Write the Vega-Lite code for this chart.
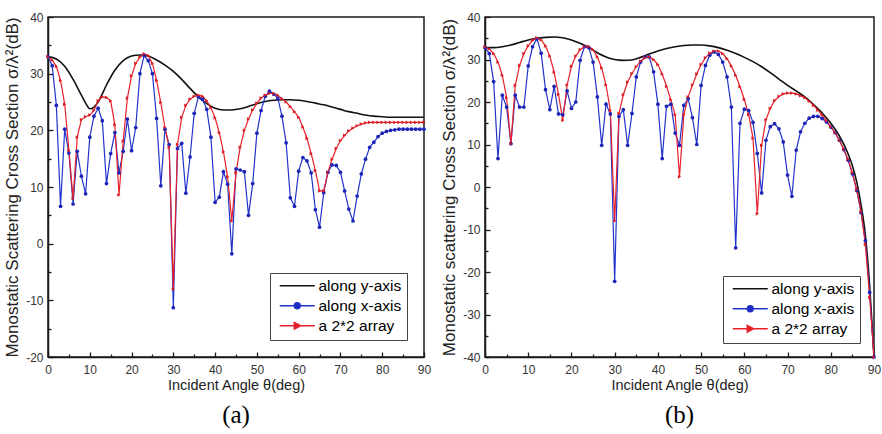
{
"$schema": "https://vega.github.io/schema/vega-lite/v6.json",
"padding": {"left": 2, "top": 10, "right": 2, "bottom": 0},
"spacing": 7,
"datasets": {
"a": [
{"theta":0,"series":"along y-axis","rcs":33.0},{"theta":2,"series":"along y-axis","rcs":32.6},{"theta":4,"series":"along y-axis","rcs":31.3},{"theta":6,"series":"along y-axis","rcs":29.0},{"theta":8,"series":"along y-axis","rcs":26.2},{"theta":9,"series":"along y-axis","rcs":24.8},{"theta":10,"series":"along y-axis","rcs":23.8},{"theta":11,"series":"along y-axis","rcs":24.1},{"theta":12,"series":"along y-axis","rcs":25.0},{"theta":14,"series":"along y-axis","rcs":28.0},{"theta":16,"series":"along y-axis","rcs":30.6},{"theta":18,"series":"along y-axis","rcs":32.3},{"theta":20,"series":"along y-axis","rcs":33.1},{"theta":22,"series":"along y-axis","rcs":33.3},{"theta":24,"series":"along y-axis","rcs":33.1},{"theta":26,"series":"along y-axis","rcs":32.4},{"theta":28,"series":"along y-axis","rcs":31.5},{"theta":30,"series":"along y-axis","rcs":30.4},{"theta":32,"series":"along y-axis","rcs":29.0},{"theta":34,"series":"along y-axis","rcs":27.4},{"theta":36,"series":"along y-axis","rcs":25.9},{"theta":38,"series":"along y-axis","rcs":24.7},{"theta":40,"series":"along y-axis","rcs":23.9},{"theta":42,"series":"along y-axis","rcs":23.6},{"theta":44,"series":"along y-axis","rcs":23.6},{"theta":46,"series":"along y-axis","rcs":23.8},{"theta":48,"series":"along y-axis","rcs":24.2},{"theta":50,"series":"along y-axis","rcs":24.7},{"theta":52,"series":"along y-axis","rcs":25.1},{"theta":54,"series":"along y-axis","rcs":25.3},{"theta":56,"series":"along y-axis","rcs":25.4},{"theta":58,"series":"along y-axis","rcs":25.4},{"theta":60,"series":"along y-axis","rcs":25.3},{"theta":62,"series":"along y-axis","rcs":25.1},{"theta":64,"series":"along y-axis","rcs":24.8},{"theta":66,"series":"along y-axis","rcs":24.5},{"theta":68,"series":"along y-axis","rcs":24.1},{"theta":70,"series":"along y-axis","rcs":23.7},{"theta":72,"series":"along y-axis","rcs":23.3},{"theta":74,"series":"along y-axis","rcs":23.0},{"theta":76,"series":"along y-axis","rcs":22.7},{"theta":78,"series":"along y-axis","rcs":22.5},{"theta":80,"series":"along y-axis","rcs":22.4},{"theta":82,"series":"along y-axis","rcs":22.3},{"theta":84,"series":"along y-axis","rcs":22.3},{"theta":86,"series":"along y-axis","rcs":22.3},{"theta":88,"series":"along y-axis","rcs":22.3},{"theta":90,"series":"along y-axis","rcs":22.3},
{"theta":0,"series":"along x-axis","rcs":33.0},{"theta":1,"series":"along x-axis","rcs":31.4},{"theta":2,"series":"along x-axis","rcs":24.4},{"theta":3,"series":"along x-axis","rcs":6.6},{"theta":4,"series":"along x-axis","rcs":20.2},{"theta":5,"series":"along x-axis","rcs":16.0},{"theta":6,"series":"along x-axis","rcs":7.0},{"theta":7,"series":"along x-axis","rcs":16.3},{"theta":8,"series":"along x-axis","rcs":11.9},{"theta":9,"series":"along x-axis","rcs":8.8},
{"theta":10,"series":"along x-axis","rcs":18.8},{"theta":11,"series":"along x-axis","rcs":22.5},{"theta":12,"series":"along x-axis","rcs":23.9},{"theta":13,"series":"along x-axis","rcs":21.7},{"theta":14,"series":"along x-axis","rcs":10.6},{"theta":15,"series":"along x-axis","rcs":15.9},{"theta":16,"series":"along x-axis","rcs":19.6},{"theta":17,"series":"along x-axis","rcs":12.5},{"theta":18,"series":"along x-axis","rcs":16.3},{"theta":19,"series":"along x-axis","rcs":22.0},
{"theta":20,"series":"along x-axis","rcs":16.4},{"theta":21,"series":"along x-axis","rcs":20.5},{"theta":22,"series":"along x-axis","rcs":30.0},{"theta":23,"series":"along x-axis","rcs":33.2},{"theta":24,"series":"along x-axis","rcs":32.3},{"theta":25,"series":"along x-axis","rcs":30.0},{"theta":26,"series":"along x-axis","rcs":22.1},{"theta":27,"series":"along x-axis","rcs":10.2},{"theta":28,"series":"along x-axis","rcs":20.2},{"theta":29,"series":"along x-axis","rcs":17.5},
{"theta":30,"series":"along x-axis","rcs":-11.3},{"theta":31,"series":"along x-axis","rcs":16.8},{"theta":32,"series":"along x-axis","rcs":17.7},{"theta":33,"series":"along x-axis","rcs":8.9},{"theta":34,"series":"along x-axis","rcs":15.3},{"theta":35,"series":"along x-axis","rcs":23.0},{"theta":36,"series":"along x-axis","rcs":25.9},{"theta":37,"series":"along x-axis","rcs":25.5},{"theta":38,"series":"along x-axis","rcs":23.7},{"theta":39,"series":"along x-axis","rcs":18.8},
{"theta":40,"series":"along x-axis","rcs":7.3},{"theta":41,"series":"along x-axis","rcs":8.2},{"theta":42,"series":"along x-axis","rcs":12.7},{"theta":43,"series":"along x-axis","rcs":10.5},{"theta":44,"series":"along x-axis","rcs":-1.8},{"theta":45,"series":"along x-axis","rcs":13.2},{"theta":46,"series":"along x-axis","rcs":13.0},{"theta":47,"series":"along x-axis","rcs":12.7},{"theta":48,"series":"along x-axis","rcs":5.0},{"theta":49,"series":"along x-axis","rcs":10.6},
{"theta":50,"series":"along x-axis","rcs":19.5},{"theta":51,"series":"along x-axis","rcs":23.5},{"theta":52,"series":"along x-axis","rcs":26.0},{"theta":53,"series":"along x-axis","rcs":26.9},{"theta":54,"series":"along x-axis","rcs":26.4},{"theta":55,"series":"along x-axis","rcs":25.7},{"theta":56,"series":"along x-axis","rcs":22.5},{"theta":57,"series":"along x-axis","rcs":17.8},{"theta":58,"series":"along x-axis","rcs":8.1},{"theta":59,"series":"along x-axis","rcs":6.6},
{"theta":60,"series":"along x-axis","rcs":12.8},{"theta":61,"series":"along x-axis","rcs":15.2},{"theta":62,"series":"along x-axis","rcs":14.6},{"theta":63,"series":"along x-axis","rcs":12.5},{"theta":64,"series":"along x-axis","rcs":6.0},{"theta":65,"series":"along x-axis","rcs":2.9},{"theta":66,"series":"along x-axis","rcs":9.0},{"theta":67,"series":"along x-axis","rcs":12.6},{"theta":68,"series":"along x-axis","rcs":13.9},{"theta":69,"series":"along x-axis","rcs":13.8},
{"theta":70,"series":"along x-axis","rcs":12.6},{"theta":71,"series":"along x-axis","rcs":9.3},{"theta":72,"series":"along x-axis","rcs":6.1},{"theta":73,"series":"along x-axis","rcs":4.0},{"theta":74,"series":"along x-axis","rcs":8.4},{"theta":75,"series":"along x-axis","rcs":12.3},{"theta":76,"series":"along x-axis","rcs":14.9},{"theta":77,"series":"along x-axis","rcs":17.0},{"theta":78,"series":"along x-axis","rcs":17.9},{"theta":79,"series":"along x-axis","rcs":18.9},
{"theta":80,"series":"along x-axis","rcs":19.5},{"theta":81,"series":"along x-axis","rcs":19.8},{"theta":82,"series":"along x-axis","rcs":20.0},{"theta":83,"series":"along x-axis","rcs":20.1},{"theta":84,"series":"along x-axis","rcs":20.2},{"theta":85,"series":"along x-axis","rcs":20.2},{"theta":86,"series":"along x-axis","rcs":20.2},{"theta":87,"series":"along x-axis","rcs":20.2},{"theta":88,"series":"along x-axis","rcs":20.2},{"theta":89,"series":"along x-axis","rcs":20.2},{"theta":90,"series":"along x-axis","rcs":20.2},
{"theta":0,"series":"a 2*2 array","rcs":33.0},{"theta":1,"series":"a 2*2 array","rcs":32.4},{"theta":2,"series":"a 2*2 array","rcs":31.3},{"theta":3,"series":"a 2*2 array","rcs":28.8},{"theta":4,"series":"a 2*2 array","rcs":24.6},{"theta":5,"series":"a 2*2 array","rcs":16.5},{"theta":6,"series":"a 2*2 array","rcs":8.0},{"theta":7,"series":"a 2*2 array","rcs":18.8},{"theta":8,"series":"a 2*2 array","rcs":21.9},{"theta":9,"series":"a 2*2 array","rcs":22.4},
{"theta":10,"series":"a 2*2 array","rcs":22.7},{"theta":11,"series":"a 2*2 array","rcs":23.5},{"theta":12,"series":"a 2*2 array","rcs":25.2},{"theta":13,"series":"a 2*2 array","rcs":25.9},{"theta":14,"series":"a 2*2 array","rcs":25.8},{"theta":15,"series":"a 2*2 array","rcs":25.2},{"theta":16,"series":"a 2*2 array","rcs":21.0},{"theta":17,"series":"a 2*2 array","rcs":8.6},{"theta":18,"series":"a 2*2 array","rcs":18.1},{"theta":19,"series":"a 2*2 array","rcs":25.7},
{"theta":20,"series":"a 2*2 array","rcs":29.6},{"theta":21,"series":"a 2*2 array","rcs":31.8},{"theta":22,"series":"a 2*2 array","rcs":32.9},{"theta":23,"series":"a 2*2 array","rcs":33.5},{"theta":24,"series":"a 2*2 array","rcs":33.2},{"theta":25,"series":"a 2*2 array","rcs":31.8},{"theta":26,"series":"a 2*2 array","rcs":28.8},{"theta":27,"series":"a 2*2 array","rcs":24.9},{"theta":28,"series":"a 2*2 array","rcs":20.5},{"theta":29,"series":"a 2*2 array","rcs":17.0},
{"theta":30,"series":"a 2*2 array","rcs":-8.0},{"theta":31,"series":"a 2*2 array","rcs":17.5},{"theta":32,"series":"a 2*2 array","rcs":22.3},{"theta":33,"series":"a 2*2 array","rcs":24.4},{"theta":34,"series":"a 2*2 array","rcs":25.5},{"theta":35,"series":"a 2*2 array","rcs":26.0},{"theta":36,"series":"a 2*2 array","rcs":26.2},{"theta":37,"series":"a 2*2 array","rcs":26.0},{"theta":38,"series":"a 2*2 array","rcs":25.2},{"theta":39,"series":"a 2*2 array","rcs":24.0},
{"theta":40,"series":"a 2*2 array","rcs":22.2},{"theta":41,"series":"a 2*2 array","rcs":19.6},{"theta":42,"series":"a 2*2 array","rcs":16.2},{"theta":43,"series":"a 2*2 array","rcs":11.8},{"theta":44,"series":"a 2*2 array","rcs":4.0},{"theta":45,"series":"a 2*2 array","rcs":12.5},{"theta":46,"series":"a 2*2 array","rcs":17.0},{"theta":47,"series":"a 2*2 array","rcs":20.0},{"theta":48,"series":"a 2*2 array","rcs":22.0},{"theta":49,"series":"a 2*2 array","rcs":23.6},
{"theta":50,"series":"a 2*2 array","rcs":24.8},{"theta":51,"series":"a 2*2 array","rcs":25.7},{"theta":52,"series":"a 2*2 array","rcs":26.2},{"theta":53,"series":"a 2*2 array","rcs":26.5},{"theta":54,"series":"a 2*2 array","rcs":26.5},{"theta":55,"series":"a 2*2 array","rcs":26.2},{"theta":56,"series":"a 2*2 array","rcs":25.6},{"theta":57,"series":"a 2*2 array","rcs":25.0},{"theta":58,"series":"a 2*2 array","rcs":24.2},{"theta":59,"series":"a 2*2 array","rcs":23.3},
{"theta":60,"series":"a 2*2 array","rcs":22.3},{"theta":61,"series":"a 2*2 array","rcs":20.6},{"theta":62,"series":"a 2*2 array","rcs":18.6},{"theta":63,"series":"a 2*2 array","rcs":15.9},{"theta":64,"series":"a 2*2 array","rcs":12.9},{"theta":65,"series":"a 2*2 array","rcs":9.3},{"theta":66,"series":"a 2*2 array","rcs":9.3},{"theta":67,"series":"a 2*2 array","rcs":12.6},{"theta":68,"series":"a 2*2 array","rcs":14.9},{"theta":69,"series":"a 2*2 array","rcs":16.8},
{"theta":70,"series":"a 2*2 array","rcs":18.2},{"theta":71,"series":"a 2*2 array","rcs":19.1},{"theta":72,"series":"a 2*2 array","rcs":19.9},{"theta":73,"series":"a 2*2 array","rcs":20.4},{"theta":74,"series":"a 2*2 array","rcs":20.8},{"theta":75,"series":"a 2*2 array","rcs":21.1},{"theta":76,"series":"a 2*2 array","rcs":21.3},{"theta":77,"series":"a 2*2 array","rcs":21.4},{"theta":78,"series":"a 2*2 array","rcs":21.4},{"theta":79,"series":"a 2*2 array","rcs":21.4},
{"theta":80,"series":"a 2*2 array","rcs":21.4},{"theta":81,"series":"a 2*2 array","rcs":21.4},{"theta":82,"series":"a 2*2 array","rcs":21.4},{"theta":83,"series":"a 2*2 array","rcs":21.4},{"theta":84,"series":"a 2*2 array","rcs":21.4},{"theta":85,"series":"a 2*2 array","rcs":21.4},{"theta":86,"series":"a 2*2 array","rcs":21.4},{"theta":87,"series":"a 2*2 array","rcs":21.4},{"theta":88,"series":"a 2*2 array","rcs":21.4},{"theta":89,"series":"a 2*2 array","rcs":21.4},{"theta":90,"series":"a 2*2 array","rcs":21.4}
],
"b": [
{"theta":0,"series":"along y-axis","rcs":32.8},{"theta":2,"series":"along y-axis","rcs":32.8},{"theta":4,"series":"along y-axis","rcs":33.0},{"theta":6,"series":"along y-axis","rcs":33.4},{"theta":8,"series":"along y-axis","rcs":34.0},{"theta":10,"series":"along y-axis","rcs":34.6},{"theta":12,"series":"along y-axis","rcs":35.0},{"theta":14,"series":"along y-axis","rcs":35.2},{"theta":16,"series":"along y-axis","rcs":35.3},{"theta":18,"series":"along y-axis","rcs":35.1},{"theta":20,"series":"along y-axis","rcs":34.6},{"theta":22,"series":"along y-axis","rcs":33.8},{"theta":24,"series":"along y-axis","rcs":32.8},{"theta":26,"series":"along y-axis","rcs":31.6},{"theta":28,"series":"along y-axis","rcs":30.6},{"theta":30,"series":"along y-axis","rcs":30.0},{"theta":32,"series":"along y-axis","rcs":29.8},{"theta":34,"series":"along y-axis","rcs":29.9},{"theta":36,"series":"along y-axis","rcs":30.5},{"theta":38,"series":"along y-axis","rcs":31.3},{"theta":40,"series":"along y-axis","rcs":32.0},{"theta":42,"series":"along y-axis","rcs":32.6},{"theta":44,"series":"along y-axis","rcs":33.0},{"theta":46,"series":"along y-axis","rcs":33.3},{"theta":48,"series":"along y-axis","rcs":33.4},{"theta":50,"series":"along y-axis","rcs":33.4},{"theta":52,"series":"along y-axis","rcs":33.2},{"theta":54,"series":"along y-axis","rcs":32.8},{"theta":56,"series":"along y-axis","rcs":32.2},{"theta":58,"series":"along y-axis","rcs":31.4},{"theta":60,"series":"along y-axis","rcs":30.5},{"theta":62,"series":"along y-axis","rcs":29.5},{"theta":64,"series":"along y-axis","rcs":28.3},{"theta":66,"series":"along y-axis","rcs":26.9},{"theta":68,"series":"along y-axis","rcs":25.4},{"theta":70,"series":"along y-axis","rcs":23.9},{"theta":72,"series":"along y-axis","rcs":22.6},{"theta":74,"series":"along y-axis","rcs":21.2},{"theta":76,"series":"along y-axis","rcs":19.4},{"theta":78,"series":"along y-axis","rcs":17.4},{"theta":80,"series":"along y-axis","rcs":15.0},{"theta":82,"series":"along y-axis","rcs":12.0},{"theta":84,"series":"along y-axis","rcs":7.8},{"theta":85,"series":"along y-axis","rcs":5.0},{"theta":86,"series":"along y-axis","rcs":1.2},{"theta":87,"series":"along y-axis","rcs":-4.2},{"theta":88,"series":"along y-axis","rcs":-11.3},{"theta":89,"series":"along y-axis","rcs":-23.3},{"theta":90,"series":"along y-axis","rcs":-40},
{"theta":0,"series":"along x-axis","rcs":32.8},{"theta":1,"series":"along x-axis","rcs":31.4},{"theta":2,"series":"along x-axis","rcs":24.8},{"theta":3,"series":"along x-axis","rcs":6.7},{"theta":4,"series":"along x-axis","rcs":21.6},{"theta":5,"series":"along x-axis","rcs":18.8},{"theta":6,"series":"along x-axis","rcs":10.2},{"theta":7,"series":"along x-axis","rcs":21.6},{"theta":8,"series":"along x-axis","rcs":18.8},{"theta":9,"series":"along x-axis","rcs":18.8},
{"theta":10,"series":"along x-axis","rcs":28.5},{"theta":11,"series":"along x-axis","rcs":33.0},{"theta":12,"series":"along x-axis","rcs":34.9},{"theta":13,"series":"along x-axis","rcs":31.5},{"theta":14,"series":"along x-axis","rcs":22.9},{"theta":15,"series":"along x-axis","rcs":18.2},{"theta":16,"series":"along x-axis","rcs":23.7},{"theta":17,"series":"along x-axis","rcs":17.2},{"theta":18,"series":"along x-axis","rcs":17.0},{"theta":19,"series":"along x-axis","rcs":22.6},
{"theta":20,"series":"along x-axis","rcs":18.5},{"theta":21,"series":"along x-axis","rcs":20.0},{"theta":22,"series":"along x-axis","rcs":29.8},{"theta":23,"series":"along x-axis","rcs":33.0},{"theta":24,"series":"along x-axis","rcs":32.8},{"theta":25,"series":"along x-axis","rcs":29.4},{"theta":26,"series":"along x-axis","rcs":21.2},{"theta":27,"series":"along x-axis","rcs":9.8},{"theta":28,"series":"along x-axis","rcs":19.5},{"theta":29,"series":"along x-axis","rcs":17.2},
{"theta":30,"series":"along x-axis","rcs":-22.2},{"theta":31,"series":"along x-axis","rcs":16.6},{"theta":32,"series":"along x-axis","rcs":18.2},{"theta":33,"series":"along x-axis","rcs":9.8},{"theta":34,"series":"along x-axis","rcs":17.3},{"theta":35,"series":"along x-axis","rcs":25.9},{"theta":36,"series":"along x-axis","rcs":29.4},{"theta":37,"series":"along x-axis","rcs":30.6},{"theta":38,"series":"along x-axis","rcs":30.6},{"theta":39,"series":"along x-axis","rcs":27.1},
{"theta":40,"series":"along x-axis","rcs":19.5},{"theta":41,"series":"along x-axis","rcs":6.7},{"theta":42,"series":"along x-axis","rcs":19.0},{"theta":43,"series":"along x-axis","rcs":19.5},{"theta":44,"series":"along x-axis","rcs":12.7},{"theta":45,"series":"along x-axis","rcs":9.8},{"theta":46,"series":"along x-axis","rcs":19.2},{"theta":47,"series":"along x-axis","rcs":20.8},{"theta":48,"series":"along x-axis","rcs":16.3},{"theta":49,"series":"along x-axis","rcs":10.0},
{"theta":50,"series":"along x-axis","rcs":23.9},{"theta":51,"series":"along x-axis","rcs":28.6},{"theta":52,"series":"along x-axis","rcs":31.0},{"theta":53,"series":"along x-axis","rcs":31.8},{"theta":54,"series":"along x-axis","rcs":31.2},{"theta":55,"series":"along x-axis","rcs":29.4},{"theta":56,"series":"along x-axis","rcs":25.9},{"theta":57,"series":"along x-axis","rcs":18.8},{"theta":58,"series":"along x-axis","rcs":-14.3},{"theta":59,"series":"along x-axis","rcs":15.0},
{"theta":60,"series":"along x-axis","rcs":18.3},{"theta":61,"series":"along x-axis","rcs":18.0},{"theta":62,"series":"along x-axis","rcs":15.2},{"theta":63,"series":"along x-axis","rcs":7.9},{"theta":64,"series":"along x-axis","rcs":-1.4},{"theta":65,"series":"along x-axis","rcs":11.0},{"theta":66,"series":"along x-axis","rcs":14.2},{"theta":67,"series":"along x-axis","rcs":14.9},{"theta":68,"series":"along x-axis","rcs":13.7},{"theta":69,"series":"along x-axis","rcs":10.6},
{"theta":70,"series":"along x-axis","rcs":2.8},{"theta":71,"series":"along x-axis","rcs":-2.2},{"theta":72,"series":"along x-axis","rcs":8.7},{"theta":73,"series":"along x-axis","rcs":13.0},{"theta":74,"series":"along x-axis","rcs":15.0},{"theta":75,"series":"along x-axis","rcs":16.2},{"theta":76,"series":"along x-axis","rcs":16.6},{"theta":77,"series":"along x-axis","rcs":16.6},{"theta":78,"series":"along x-axis","rcs":16.1},{"theta":79,"series":"along x-axis","rcs":15.3},
{"theta":80,"series":"along x-axis","rcs":14.1},{"theta":81,"series":"along x-axis","rcs":12.8},{"theta":82,"series":"along x-axis","rcs":11.0},{"theta":83,"series":"along x-axis","rcs":8.8},{"theta":84,"series":"along x-axis","rcs":6.3},{"theta":85,"series":"along x-axis","rcs":3.1},{"theta":86,"series":"along x-axis","rcs":-0.8},{"theta":87,"series":"along x-axis","rcs":-6.0},{"theta":88,"series":"along x-axis","rcs":-12.6},{"theta":89,"series":"along x-axis","rcs":-24.8},{"theta":90,"series":"along x-axis","rcs":-40},
{"theta":0,"series":"a 2*2 array","rcs":33.0},{"theta":1,"series":"a 2*2 array","rcs":32.5},{"theta":2,"series":"a 2*2 array","rcs":31.4},{"theta":3,"series":"a 2*2 array","rcs":29.4},{"theta":4,"series":"a 2*2 array","rcs":26.3},{"theta":5,"series":"a 2*2 array","rcs":21.0},{"theta":6,"series":"a 2*2 array","rcs":10.2},{"theta":7,"series":"a 2*2 array","rcs":23.9},{"theta":8,"series":"a 2*2 array","rcs":28.6},{"theta":9,"series":"a 2*2 array","rcs":31.4},
{"theta":10,"series":"a 2*2 array","rcs":33.2},{"theta":11,"series":"a 2*2 array","rcs":34.5},{"theta":12,"series":"a 2*2 array","rcs":35.1},{"theta":13,"series":"a 2*2 array","rcs":34.6},{"theta":14,"series":"a 2*2 array","rcs":33.2},{"theta":15,"series":"a 2*2 array","rcs":30.8},{"theta":16,"series":"a 2*2 array","rcs":27.0},{"theta":17,"series":"a 2*2 array","rcs":21.8},{"theta":18,"series":"a 2*2 array","rcs":15.7},{"theta":19,"series":"a 2*2 array","rcs":24.0},
{"theta":20,"series":"a 2*2 array","rcs":28.4},{"theta":21,"series":"a 2*2 array","rcs":30.8},{"theta":22,"series":"a 2*2 array","rcs":32.3},{"theta":23,"series":"a 2*2 array","rcs":33.0},{"theta":24,"series":"a 2*2 array","rcs":33.1},{"theta":25,"series":"a 2*2 array","rcs":32.3},{"theta":26,"series":"a 2*2 array","rcs":30.6},{"theta":27,"series":"a 2*2 array","rcs":28.0},{"theta":28,"series":"a 2*2 array","rcs":24.0},{"theta":29,"series":"a 2*2 array","rcs":18.0},
{"theta":30,"series":"a 2*2 array","rcs":-8.0},{"theta":31,"series":"a 2*2 array","rcs":17.3},{"theta":32,"series":"a 2*2 array","rcs":21.7},{"theta":33,"series":"a 2*2 array","rcs":24.7},{"theta":34,"series":"a 2*2 array","rcs":26.7},{"theta":35,"series":"a 2*2 array","rcs":28.3},{"theta":36,"series":"a 2*2 array","rcs":29.6},{"theta":37,"series":"a 2*2 array","rcs":30.4},{"theta":38,"series":"a 2*2 array","rcs":30.6},{"theta":39,"series":"a 2*2 array","rcs":30.0},
{"theta":40,"series":"a 2*2 array","rcs":28.8},{"theta":41,"series":"a 2*2 array","rcs":26.6},{"theta":42,"series":"a 2*2 array","rcs":23.7},{"theta":43,"series":"a 2*2 array","rcs":20.5},{"theta":44,"series":"a 2*2 array","rcs":17.0},{"theta":45,"series":"a 2*2 array","rcs":2.4},{"theta":46,"series":"a 2*2 array","rcs":17.0},{"theta":47,"series":"a 2*2 array","rcs":21.2},{"theta":48,"series":"a 2*2 array","rcs":24.0},{"theta":49,"series":"a 2*2 array","rcs":26.6},
{"theta":50,"series":"a 2*2 array","rcs":28.8},{"theta":51,"series":"a 2*2 array","rcs":30.4},{"theta":52,"series":"a 2*2 array","rcs":31.5},{"theta":53,"series":"a 2*2 array","rcs":32.0},{"theta":54,"series":"a 2*2 array","rcs":32.0},{"theta":55,"series":"a 2*2 array","rcs":31.4},{"theta":56,"series":"a 2*2 array","rcs":30.2},{"theta":57,"series":"a 2*2 array","rcs":28.5},{"theta":58,"series":"a 2*2 array","rcs":26.3},{"theta":59,"series":"a 2*2 array","rcs":23.6},
{"theta":60,"series":"a 2*2 array","rcs":20.6},{"theta":61,"series":"a 2*2 array","rcs":17.0},{"theta":62,"series":"a 2*2 array","rcs":11.5},{"theta":63,"series":"a 2*2 array","rcs":-6.3},{"theta":64,"series":"a 2*2 array","rcs":9.8},{"theta":65,"series":"a 2*2 array","rcs":15.8},{"theta":66,"series":"a 2*2 array","rcs":18.5},{"theta":67,"series":"a 2*2 array","rcs":20.3},{"theta":68,"series":"a 2*2 array","rcs":21.3},{"theta":69,"series":"a 2*2 array","rcs":21.9},
{"theta":70,"series":"a 2*2 array","rcs":22.1},{"theta":71,"series":"a 2*2 array","rcs":22.1},{"theta":72,"series":"a 2*2 array","rcs":21.9},{"theta":73,"series":"a 2*2 array","rcs":21.5},{"theta":74,"series":"a 2*2 array","rcs":21.0},{"theta":75,"series":"a 2*2 array","rcs":20.2},{"theta":76,"series":"a 2*2 array","rcs":19.2},{"theta":77,"series":"a 2*2 array","rcs":18.1},{"theta":78,"series":"a 2*2 array","rcs":16.9},{"theta":79,"series":"a 2*2 array","rcs":15.6},
{"theta":80,"series":"a 2*2 array","rcs":14.2},{"theta":81,"series":"a 2*2 array","rcs":12.8},{"theta":82,"series":"a 2*2 array","rcs":11.0},{"theta":83,"series":"a 2*2 array","rcs":8.9},{"theta":84,"series":"a 2*2 array","rcs":6.5},{"theta":85,"series":"a 2*2 array","rcs":3.4},{"theta":86,"series":"a 2*2 array","rcs":-0.6},{"theta":87,"series":"a 2*2 array","rcs":-5.8},{"theta":88,"series":"a 2*2 array","rcs":-13.5},{"theta":89,"series":"a 2*2 array","rcs":-26.0},{"theta":90,"series":"a 2*2 array","rcs":-40}
]
},
"resolve": {"scale": {"color": "independent", "x": "independent", "y": "independent"}, "legend": {"color": "independent"}},
"hconcat": [
{
"width": 376, "height": 340,
"data": {"name": "a"},
"title": {"text": "(a)", "orient": "bottom", "font": "Liberation Serif", "fontSize": 25, "fontWeight": "normal", "color": "#000", "offset": 11, "anchor": "middle"},
"encoding": {
"x": {"field": "theta", "type": "quantitative", "scale": {"domain": [0, 90], "nice": false},
 "axis": {"values": [0,5,10,15,20,25,30,35,40,45,50,55,60,65,70,75,80,85,90], "labelExpr": "datum.value % 10 === 0 ? '' + datum.value : ''", "tickSize": {"condition": {"test": "datum.value % 10 === 0", "value": -5}, "value": -3}, "labelPadding": 12, "labelFlush": false, "labelOverlap": false, "title": "Incident Angle θ(deg)", "titlePadding": 1, "titleFontSize": 14.5}},
"y": {"field": "rcs", "type": "quantitative", "scale": {"domain": [-20, 40], "nice": false, "zero": false},
 "axis": {"values": [-20,-15,-10,-5,0,5,10,15,20,25,30,35,40], "labelExpr": "datum.value % 10 === 0 ? '' + datum.value : ''", "tickSize": {"condition": {"test": "datum.value % 10 === 0", "value": -5}, "value": -3}, "labelPadding": 10, "labelFlush": false, "labelOverlap": false, "title": "Monostatic Scattering Cross Section σ/λ²(dB)", "titlePadding": 4, "titleFontSize": 17}}
},
"layer": [
{"transform": [{"filter": "datum.series === 'along y-axis'"}], "mark": {"type": "line", "interpolate": "monotone", "strokeWidth": 1.6},
 "encoding": {"color": {"field": "series", "type": "nominal", "scale": {"domain": ["along y-axis", "along x-axis", "a 2*2 array"], "range": ["#111111", "#2233cc", "#e8202a"]},
  "legend": {"orient": "bottom-right", "offset": 17, "title": null, "strokeColor": "#444", "fillColor": "#ffffff", "padding": 5, "labelFont": "Liberation Sans", "labelFontSize": 15.5, "labelColor": "#000", "symbolSize": 100, "labelOffset": 28, "rowPadding": 3, "symbolStrokeWidth": 1.4,
   "encode": {"symbols": {"update": {"shape": {"signal": "datum.value === 'along x-axis' ? 'M-0.6,0L6.4,0M3.5,0A0.6,0.6 0 1 1 2.3,0A0.6,0.6 0 1 1 3.5,0Z' : datum.value === 'a 2*2 array' ? 'M-0.6,0L6.4,0M2.3,-0.65L3.6,0L2.3,0.65Z' : 'M-0.6,0L6.4,0'"}, "fill": {"signal": "datum.value === 'along x-axis' ? '#1d24b8' : datum.value === 'a 2*2 array' ? '#d81c24' : 'transparent'"}}}}}}}},
{"transform": [{"filter": "datum.series !== 'along y-axis'"}], "mark": {"type": "line", "strokeWidth": 1.2},
 "encoding": {"color": {"field": "series", "type": "nominal", "scale": {"domain": ["along y-axis", "along x-axis", "a 2*2 array"], "range": ["#111111", "#2233cc", "#e8202a"]}}}},
{"transform": [{"filter": "datum.series === 'along x-axis'"}], "mark": {"type": "point", "shape": "circle", "filled": true, "size": 14, "opacity": 1, "color": "#1d24b8"}},
{"transform": [{"filter": "datum.series === 'a 2*2 array'"}], "mark": {"type": "point", "shape": "triangle-right", "filled": true, "size": 14, "opacity": 1, "color": "#d81c24"}}
]
},
{
"width": 389, "height": 340,
"data": {"name": "b"},
"title": {"text": "(b)", "orient": "bottom", "font": "Liberation Serif", "fontSize": 25, "fontWeight": "normal", "color": "#000", "offset": 11, "anchor": "middle"},
"encoding": {
"x": {"field": "theta", "type": "quantitative", "scale": {"domain": [0, 90], "nice": false},
 "axis": {"values": [0,5,10,15,20,25,30,35,40,45,50,55,60,65,70,75,80,85,90], "labelExpr": "datum.value % 10 === 0 ? '' + datum.value : ''", "tickSize": {"condition": {"test": "datum.value % 10 === 0", "value": -5}, "value": -3}, "labelPadding": 12, "labelFlush": false, "labelOverlap": false, "title": "Incident Angle θ(deg)", "titlePadding": 1, "titleFontSize": 14.5}},
"y": {"field": "rcs", "type": "quantitative", "scale": {"domain": [-40, 40], "nice": false, "zero": false},
 "axis": {"values": [-40,-35,-30,-25,-20,-15,-10,-5,0,5,10,15,20,25,30,35,40], "labelExpr": "datum.value % 10 === 0 ? '' + datum.value : ''", "tickSize": {"condition": {"test": "datum.value % 10 === 0", "value": -5}, "value": -3}, "labelPadding": 10, "labelFlush": false, "labelOverlap": false, "title": "Monostatic scattering Cross Section σ/λ²(dB)", "titlePadding": 4, "titleFontSize": 17}}
},
"layer": [
{"transform": [{"filter": "datum.series === 'along y-axis'"}], "mark": {"type": "line", "interpolate": "monotone", "strokeWidth": 1.6},
 "encoding": {"color": {"field": "series", "type": "nominal", "scale": {"domain": ["along y-axis", "along x-axis", "a 2*2 array"], "range": ["#111111", "#2233cc", "#e8202a"]},
  "legend": {"orient": "bottom-right", "offset": 14, "title": null, "strokeColor": "#444", "fillColor": "#ffffff", "padding": 5, "labelFont": "Liberation Sans", "labelFontSize": 15.5, "labelColor": "#000", "symbolSize": 100, "labelOffset": 28, "rowPadding": 3, "symbolStrokeWidth": 1.4,
   "encode": {"symbols": {"update": {"shape": {"signal": "datum.value === 'along x-axis' ? 'M-0.6,0L6.4,0M3.5,0A0.6,0.6 0 1 1 2.3,0A0.6,0.6 0 1 1 3.5,0Z' : datum.value === 'a 2*2 array' ? 'M-0.6,0L6.4,0M2.3,-0.65L3.6,0L2.3,0.65Z' : 'M-0.6,0L6.4,0'"}, "fill": {"signal": "datum.value === 'along x-axis' ? '#1d24b8' : datum.value === 'a 2*2 array' ? '#d81c24' : 'transparent'"}}}}}}}},
{"transform": [{"filter": "datum.series !== 'along y-axis'"}], "mark": {"type": "line", "strokeWidth": 1.2},
 "encoding": {"color": {"field": "series", "type": "nominal", "scale": {"domain": ["along y-axis", "along x-axis", "a 2*2 array"], "range": ["#111111", "#2233cc", "#e8202a"]}}}},
{"transform": [{"filter": "datum.series === 'along x-axis'"}], "mark": {"type": "point", "shape": "circle", "filled": true, "size": 14, "opacity": 1, "color": "#1d24b8"}},
{"transform": [{"filter": "datum.series === 'a 2*2 array'"}], "mark": {"type": "point", "shape": "triangle-right", "filled": true, "size": 14, "opacity": 1, "color": "#d81c24"}}
]
}
],
"config": {
"font": "Liberation Sans",
"view": {"stroke": "#1a1a1a", "strokeWidth": 1.5},
"axis": {"domainColor": "#1a1a1a", "domainWidth": 1.5, "tickColor": "#1a1a1a", "tickWidth": 1.3, "labelFont": "Liberation Sans", "labelFontSize": 12, "labelColor": "#333333", "titleFont": "Liberation Sans", "titleFontSize": 15, "titleFontWeight": "normal", "titleColor": "#222222", "grid": false}
}
}
